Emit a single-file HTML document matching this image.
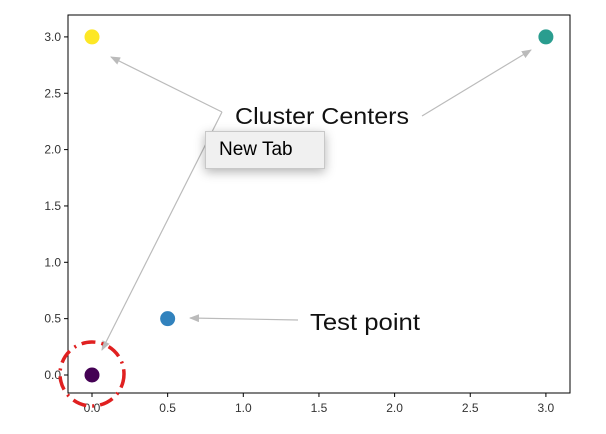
<!DOCTYPE html>
<html><head><meta charset="utf-8"><style>
body{margin:0;background:#fff;width:606px;height:434px;overflow:hidden;position:relative;font-family:"Liberation Sans",sans-serif}
#tab{position:absolute;left:205px;top:131px;width:118px;height:36px;background:#f0f0f0;border:1px solid #c8c8c8;box-shadow:0 3px 10px rgba(0,0,0,.3);font-size:19px;line-height:36px;text-indent:13px;color:#000}
</style></head><body>
<svg id="chart" width="606" height="434" style="position:absolute;left:0;top:0"></svg>
<div id="tab">New Tab</div>
<script>
const xTicks=[0,0.5,1,1.5,2,2.5,3];
const yTicks=[0,0.5,1,1.5,2,2.5,3];
const ptX=[0,3,0.5,0];
const ptY=[3,3,0.5,0];
const ptColor=['#fde725','#2a9d8f','#3182bd','#440154'];
const ptNames=['center-yellow','center-teal','test-point','center-purple'];
const NS='http://www.w3.org/2000/svg';
const svg=document.getElementById('chart');
const X=v=>92+v*151.3, Y=v=>375-v*112.7;
function mk(t,a,p){const e=document.createElementNS(NS,t);for(const k in a)e.setAttribute(k,a[k]);(p||svg).appendChild(e);return e;}
const frame=mk('rect',{x:68,y:15,width:502,height:378,fill:'none',stroke:'#000','stroke-width':1});


xTicks.forEach(v=>{mk('line',{x1:X(v),x2:X(v),y1:393,y2:397,stroke:'#000'});
const t=mk('text',{x:X(v),y:412,'text-anchor':'middle','font-size':12,fill:'#333'});t.textContent=v.toFixed(1);

});
yTicks.forEach(v=>{mk('line',{x1:64,x2:68,y1:Y(v),y2:Y(v),stroke:'#000'});
const t=mk('text',{x:61,y:Y(v)+4,'text-anchor':'end','font-size':12,fill:'#333'});t.textContent=v.toFixed(1);

});
const defs=mk('defs',{});
const m=mk('marker',{id:'ar',markerWidth:10,markerHeight:8,refX:9,refY:4,orient:'auto',markerUnits:'userSpaceOnUse'},defs);
mk('path',{d:'M0,0 L10,4 L0,8 Z',fill:'#bbb'},m);
function arrow(x1,y1,x2,y2,n){const l=mk('line',{x1,y1,x2,y2,stroke:'#bbb','stroke-width':1.2,'marker-end':'url(#ar)'});

}
arrow(222,112,111,57,'arrow-to-yellow');
arrow(222,112,102,350,'arrow-to-purple');
arrow(422,116,531,50,'arrow-to-teal');
arrow(298,320,190,318,'arrow-to-test-point');
ptX.forEach((v,i)=>{const c=mk('circle',{cx:X(v),cy:Y(ptY[i]),r:7.5,fill:ptColor[i]});

});
const rc=mk('circle',{cx:92,cy:374,r:32,fill:'none',stroke:'#e02020','stroke-width':3.5,'stroke-dasharray':'14 6 2 6'});


let t=mk('text',{x:235,y:124,'font-size':23,fill:'#111',textLength:174,lengthAdjust:'spacingAndGlyphs'});t.textContent='Cluster Centers';


t=mk('text',{x:310,y:330,'font-size':23,fill:'#111',textLength:110,lengthAdjust:'spacingAndGlyphs'});t.textContent='Test point';


</script>
</body></html>
